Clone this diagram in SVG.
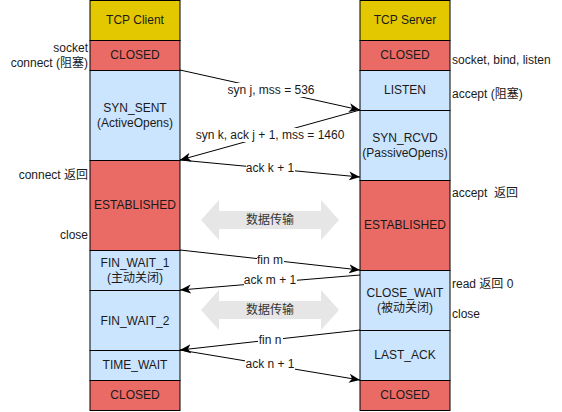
<svg xmlns="http://www.w3.org/2000/svg" width="562" height="412" viewBox="0 0 562 412">
<style>
text{font-family:"Liberation Sans",Arial,"Noto Sans CJK SC",sans-serif;font-size:12px;fill:#1a1a1a;text-anchor:middle}
.st{stroke:#000;stroke-width:1}
.y{fill:#e3c800}
.r{fill:#ea6b66}
.b{fill:#cce5ff}
.side{text-anchor:start}
.sideR{text-anchor:end}
.ln{stroke:#000;stroke-width:1;fill:none;marker-end:url(#ah)}
.bg{fill:#fff}
.da{fill:#e6e6e6}
.dat{fill:#333}
</style>
<defs>
<marker id="ah" markerUnits="userSpaceOnUse" markerWidth="12" markerHeight="10" viewBox="0 0 12 10" refX="11" refY="5" orient="auto">
<path d="M0,0.5 L11,5 L0,9.5 L3,5 Z" fill="#000"/>
</marker>
</defs>

<g id="client">
<g id="c-title"><rect class="st y" x="90" y="0.5" width="90" height="40"/><text x="135" y="24">TCP Client</text></g>
<g id="c-closed1"><rect class="st r" x="90" y="40.5" width="90" height="30"/><text x="135" y="59">CLOSED</text></g>
<g id="c-synsent"><rect class="st b" x="90" y="70.5" width="90" height="90"/><text x="135" y="112">SYN_SENT</text><text x="135" y="127">(ActiveOpens)</text></g>
<g id="c-est"><rect class="st r" x="90" y="160.5" width="90" height="90"/><text x="135" y="209">ESTABLISHED</text></g>
<g id="c-fw1"><rect class="st b" x="90" y="250.5" width="90" height="40"/><text x="135" y="267">FIN_WAIT_1</text><text x="135" y="282">(主动关闭)</text></g>
<g id="c-fw2"><rect class="st b" x="90" y="290.5" width="90" height="60"/><text x="135" y="325">FIN_WAIT_2</text></g>
<g id="c-tw"><rect class="st b" x="90" y="350.5" width="90" height="30"/><text x="135" y="369">TIME_WAIT</text></g>
<g id="c-closed2"><rect class="st r" x="90" y="380.5" width="90" height="30"/><text x="135" y="399">CLOSED</text></g>
</g>

<g id="server">
<g id="s-title"><rect class="st y" x="360" y="0.5" width="90" height="40"/><text x="405" y="24">TCP Server</text></g>
<g id="s-closed1"><rect class="st r" x="360" y="40.5" width="90" height="30"/><text x="405" y="59">CLOSED</text></g>
<g id="s-listen"><rect class="st b" x="360" y="70.5" width="90" height="40"/><text x="405" y="94">LISTEN</text></g>
<g id="s-synrcvd"><rect class="st b" x="360" y="110.5" width="90" height="70"/><text x="405" y="142">SYN_RCVD</text><text x="405" y="157">(PassiveOpens)</text></g>
<g id="s-est"><rect class="st r" x="360" y="180.5" width="90" height="90"/><text x="405" y="229">ESTABLISHED</text></g>
<g id="s-cw"><rect class="st b" x="360" y="270.5" width="90" height="60"/><text x="405" y="297">CLOSE_WAIT</text><text x="405" y="312">(被动关闭)</text></g>
<g id="s-la"><rect class="st b" x="360" y="330.5" width="90" height="50"/><text x="405" y="359">LAST_ACK</text></g>
<g id="s-closed2"><rect class="st r" x="360" y="380.5" width="90" height="30"/><text x="405" y="399">CLOSED</text></g>
</g>

<g id="side-labels">
<text class="sideR" x="88" y="52">socket</text>
<text class="sideR" x="88" y="67">connect (阻塞)</text>
<text class="sideR" x="88" y="179">connect 返回</text>
<text class="sideR" x="88" y="239">close</text>
<text class="side" x="452" y="64">socket, bind, listen</text>
<text class="side" x="452" y="98">accept (阻塞)</text>
<text class="side" x="452" y="197" xml:space="preserve">accept  返回</text>
<text class="side" x="452" y="288">read 返回 0</text>
<text class="side" x="452" y="318">close</text>
</g>

<g id="data-arrows">
<g id="data1"><path class="da" d="M201,220 L219,200 L219,211 L321,211 L321,200 L339,220 L321,240 L321,229 L219,229 L219,240 Z"/><text class="dat" x="270" y="224">数据传输</text></g>
<g id="data2"><path class="da" d="M201,310 L219,290 L219,301 L321,301 L321,290 L339,310 L321,330 L321,319 L219,319 L219,330 Z"/><text class="dat" x="270" y="314">数据传输</text></g>
</g>

<g id="connectors">
<line class="ln" x1="180" y1="70" x2="360" y2="110"/>
<line class="ln" x1="360" y1="110" x2="180" y2="160"/>
<line class="ln" x1="180" y1="160" x2="360" y2="177"/>
<line class="ln" x1="180" y1="250" x2="360" y2="270"/>
<line class="ln" x1="360" y1="275" x2="180" y2="290"/>
<line class="ln" x1="360" y1="330" x2="180" y2="350"/>
<line class="ln" x1="180" y1="350" x2="360" y2="380"/>
<rect class="bg" x="225" y="83" width="92" height="14"/><text x="271" y="94">syn j, mss = 536</text>
<rect class="bg" x="195" y="128" width="150" height="14"/><text x="270" y="139">syn k, ack j + 1, mss = 1460</text>
<rect class="bg" x="246" y="161" width="49" height="14"/><text x="270" y="172">ack k + 1</text>
<rect class="bg" x="257" y="253" width="27" height="14"/><text x="270" y="264">fin m</text>
<rect class="bg" x="244" y="273" width="53" height="14"/><text x="270" y="284">ack m + 1</text>
<rect class="bg" x="258" y="333" width="25" height="14"/><text x="270" y="344">fin n</text>
<rect class="bg" x="245" y="357" width="50" height="14"/><text x="270" y="368">ack n + 1</text>
</g>
</svg>
